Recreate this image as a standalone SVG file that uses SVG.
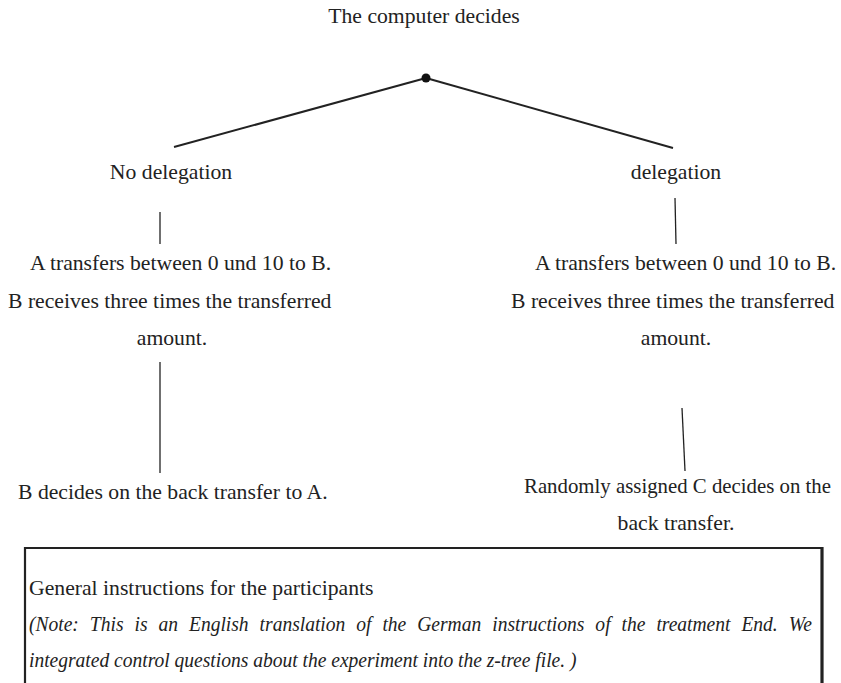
<svg xmlns="http://www.w3.org/2000/svg" width="841" height="683" viewBox="0 0 841 683">
<style>
text{font-family:'Liberation Serif','Times New Roman',Times,'DejaVu Serif',serif;font-size:21.7px;fill:#222;}
.c{text-anchor:middle;}
.i{font-style:italic;}
.ln{stroke:#222;stroke-width:1.3;fill:none;}
.tl{stroke:#222;stroke-width:2;fill:none;}
</style>
<rect width="841" height="683" fill="#fff"/>
<g id="connectors">
<line class="tl" x1="426" y1="78" x2="174" y2="147"/>
<line class="tl" x1="426" y1="78" x2="673" y2="148"/>
<line class="ln" x1="160" y1="212" x2="160" y2="244"/>
<line class="ln" x1="675" y1="198" x2="676" y2="244"/>
<line class="ln" x1="160" y1="362" x2="160" y2="473"/>
<line class="ln" x1="682" y1="408" x2="685" y2="471"/>
</g>
<g id="root">
<text class="c" x="424" y="23">The computer decides</text>
<circle cx="426" cy="78" r="4.5" fill="#111"/>
</g>
<g id="no-delegation">
<text class="c" x="171" y="179">No delegation</text>
</g>
<g id="delegation">
<text class="c" x="676" y="179">delegation</text>
</g>
<g id="left-transfer">
<text x="30" y="270">A transfers between 0 und 10 to B.</text>
<text x="8" y="308">B receives three times the transferred</text>
<text class="c" x="172" y="345">amount.</text>
</g>
<g id="right-transfer">
<text x="535" y="270">A transfers between 0 und 10 to B.</text>
<text x="511" y="308">B receives three times the transferred</text>
<text class="c" x="676" y="345">amount.</text>
</g>
<g id="left-back">
<text x="18" y="499">B decides on the back transfer to A.</text>
</g>
<g id="right-back">
<text x="524" y="493" style="font-size:21px" textLength="307" lengthAdjust="spacingAndGlyphs">Randomly assigned C decides on the</text>
<text class="c" x="676" y="530">back transfer.</text>
</g>
<g id="instructions">
<path d="M25,690 V548 H822" stroke="#222" stroke-width="2.2" fill="none"/>
<line x1="822" y1="547" x2="822" y2="690" stroke="#222" stroke-width="3.2"/>
<text x="29" y="595">General instructions for the participants</text>
<g transform="translate(29,0) scale(0.9,1)">
<text class="i" x="0" y="631" word-spacing="6.8">(Note: This is an English translation of the German instructions of the treatment End. We</text>
<text class="i" x="0" y="667">integrated control questions about the experiment into the z-tree file. )</text>
</g>
</g>
</svg>
